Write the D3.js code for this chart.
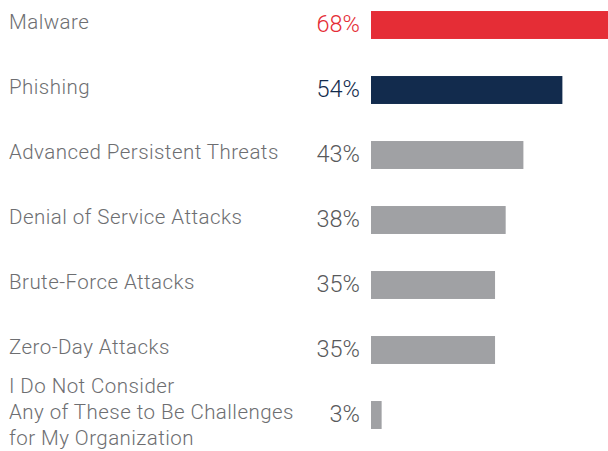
<!DOCTYPE html>
<html>
<head>
<meta charset="utf-8">
<script src="https://cdn.jsdelivr.net/npm/d3@7"></script>
<style>
  html, body { margin: 0; padding: 0; background: #ffffff; }
  svg { display: block; }
</style>
</head>
<body>
<div id="chart"></div>
<script>
// chart data
var categories = [
  ["Malware"],
  ["Phishing"],
  ["Advanced Persistent Threats"],
  ["Denial of Service Attacks"],
  ["Brute-Force Attacks"],
  ["Zero-Day Attacks"],
  ["I Do Not Consider", "Any of These to Be Challenges", "for My Organization"]
];
var values = [68, 54, 43, 38, 35, 35, 3];
var barColors = ["#e52d36", "#122b4d", "#a0a1a4", "#a0a1a4", "#a0a1a4", "#a0a1a4", "#a0a1a4"];
var pctColors = ["#e52d36", "#122b4d", "#58595b", "#58595b", "#58595b", "#58595b", "#58595b"];

var width = 608, height = 451;

var svg = d3.select("#chart")
  .append("svg")
  .attr("width", width)
  .attr("height", height);

// x scale: bars start at 371, the top bar runs off the right edge
var x = d3.scaleLinear()
  .domain([0, 68])
  .range([371, 612]);

// y band for rows
var y = d3.scaleBand()
  .domain(d3.range(values.length))
  .range([-7.5, 447.5])
  .paddingInner(0.57)
  .paddingOuter(0.285);

var rows = svg.selectAll(".row")
  .data(values)
  .enter()
  .append("g")
  .attr("class", "row");

rows.append("rect")
  .attr("x", x(0))
  .attr("y", function(d, i) { return y(i); })
  .attr("width", function(d) { return x(d) - x(0); })
  .attr("height", y.bandwidth())
  .attr("fill", function(d, i) { return barColors[i]; });

rows.append("text")
  .attr("x", 360)
  .attr("y", function(d, i) { return y(i) + y.bandwidth() / 2 - 1.5; })
  .attr("dy", "0.36em")
  .attr("text-anchor", "end")
  .style("font-family", "Roboto, 'Open Sans', sans-serif")
  .style("font-weight", 300)
  .style("font-size", "23.5px")
  .attr("fill", function(d, i) { return pctColors[i]; })
  .text(function(d) { return d + "%"; });

// category labels, multiline where needed
rows.each(function(d, i) {
  var lines = categories[i];
  var lineH = 26;
  var cy = y(i) + y.bandwidth() / 2 - 3;
  var t = d3.select(this).append("text")
    .attr("x", 9)
    .style("font-family", "Roboto, 'Open Sans', sans-serif")
    .style("font-weight", 300)
    .style("font-size", "20.5px")
    .style("letter-spacing", "0.45px")
    .attr("fill", "#6d6e71");
  lines.forEach(function(line, k) {
    t.append("tspan")
      .attr("x", 9)
      .attr("y", cy + (k - (lines.length - 1) / 2) * lineH)
      .attr("dy", "0.35em")
      .text(line);
  });
});
</script>
</body>
</html>
